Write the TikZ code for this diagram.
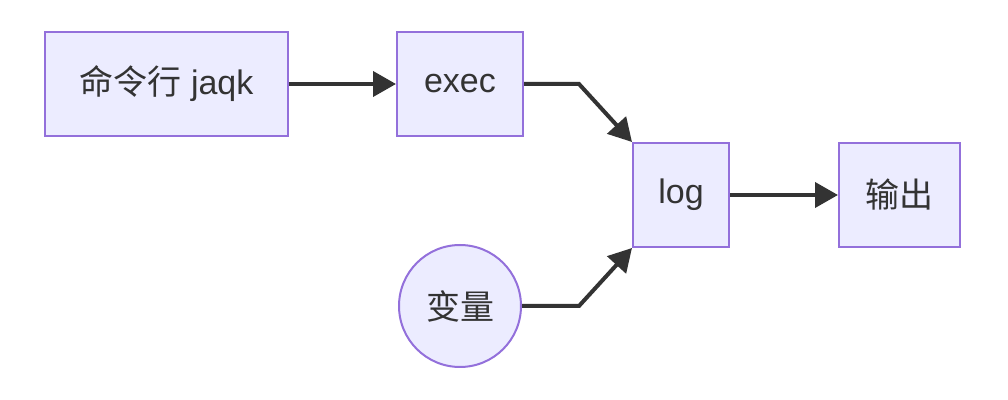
\documentclass[tikz,border=0pt]{standalone}
\usepackage{fontspec}
\setmainfont{Liberation Sans}
\newfontfamily\cjk{Noto Sans CJK SC}
\usetikzlibrary{arrows.meta, positioning, calc}
\definecolor{mfill}{HTML}{ECECFF}
\definecolor{mline}{HTML}{9370DB}
\definecolor{mdark}{HTML}{333333}
\tikzset{
  every picture/.style={font=\fontsize{17}{20}\selectfont, text=mdark},
  box/.style={draw=mline, fill=mfill, line width=1pt, inner sep=0pt, minimum height=52pt, align=center},
  blob/.style={circle, draw=mline, fill=mfill, line width=1pt, inner sep=0pt, minimum size=61pt},
  arrow/.style={-{Triangle[length=11.5pt, width=12.5pt]}, draw=mdark, line width=2pt},
}
\begin{document}
\begin{tikzpicture}[x=0.5pt, y=-0.5pt]
  \useasboundingbox (0,0) rectangle (1008,400);
  \node[box, minimum width=121.5pt] (cli) at (166.5,84) {{\cjk 命令行} jaqk};
  \node[box, minimum width=63pt] (exec) at (460,84) {exec};
  \node[box, minimum width=48pt] (log) at (681,195) {log};
  \node[box, minimum width=60.5pt] (out) at (899.5,195) {\cjk 输出};
  \node[blob] (var) at (460,306) {\cjk 变量};
  % edges
  \draw[arrow] (cli) -- (exec);
  \draw[arrow] (exec.east) -- ($(exec.east)+(55,0)$) -- (log.north west);
  \draw[arrow] (var.east) -- ($(var.east)+(57,0)$) -- (log.south west);
  \draw[arrow] (log) -- (out);
\end{tikzpicture}
\end{document}
